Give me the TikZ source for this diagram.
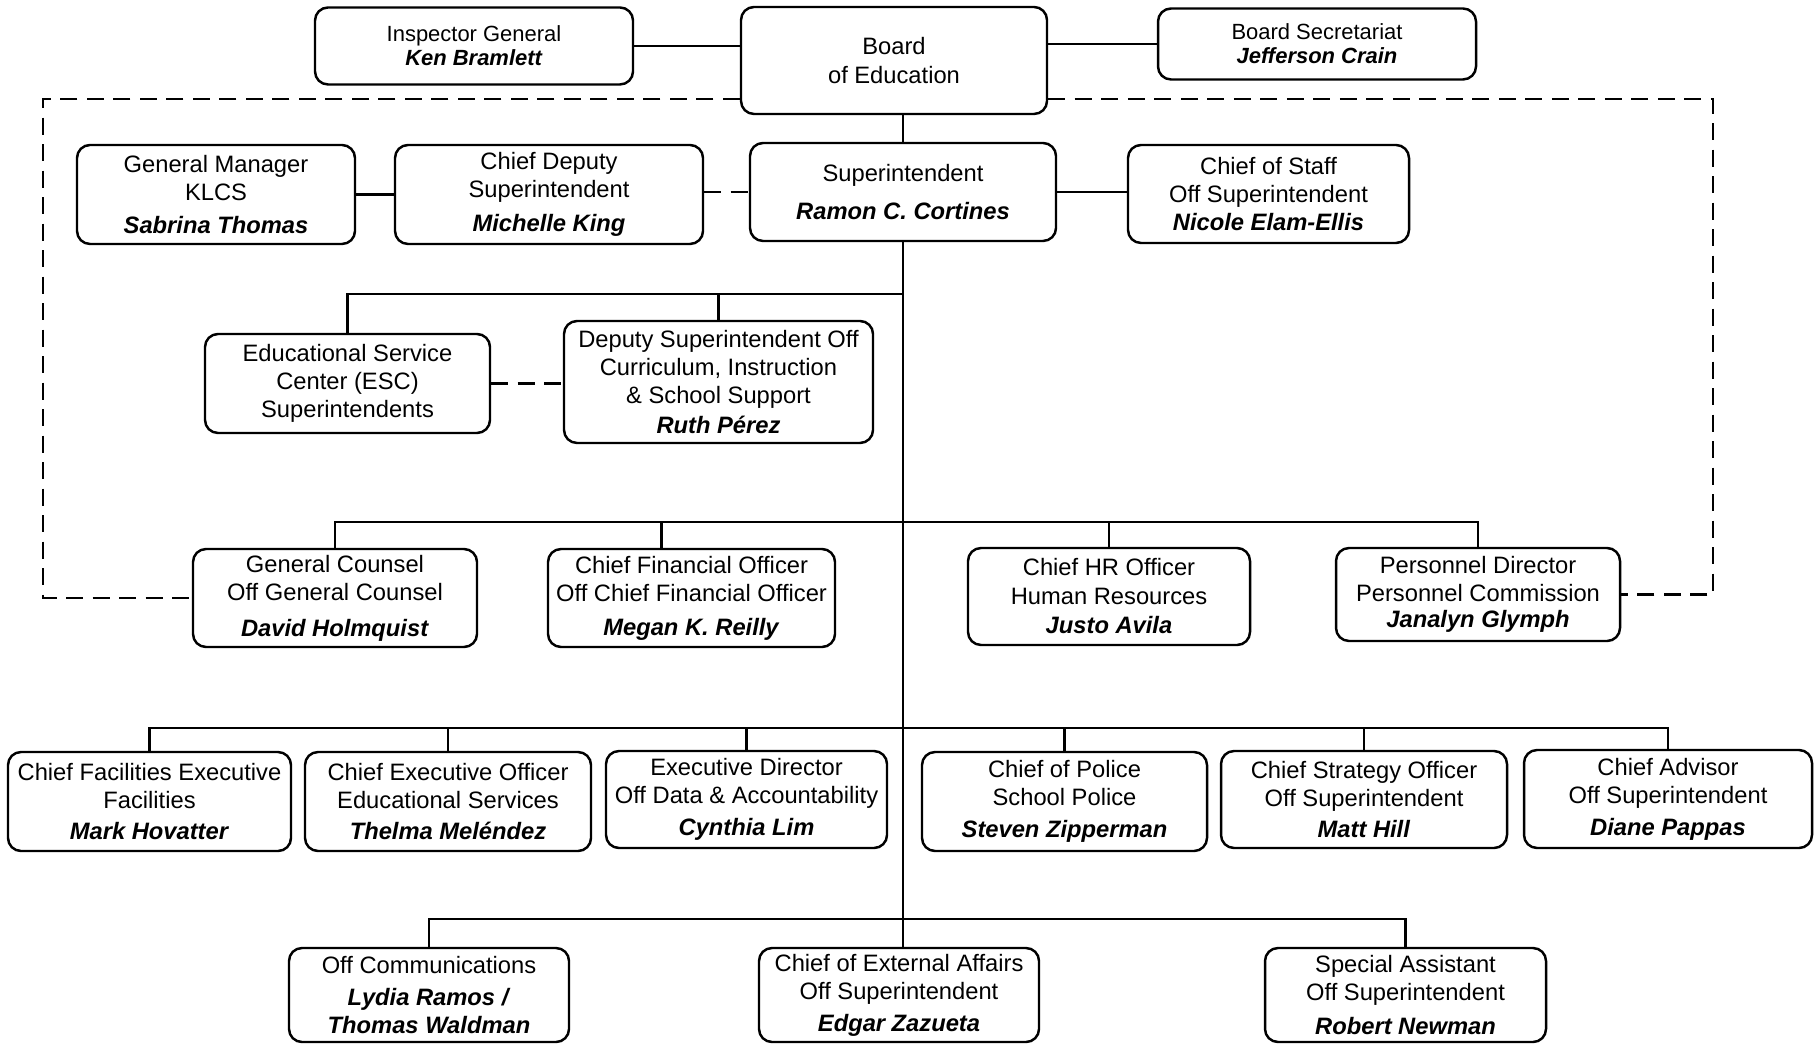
\documentclass[tikz,border=0pt]{standalone}
\usepackage{fontspec}
\setmainfont{Liberation Sans}
\newcommand{\nm}[1]{\textbf{\textit{#1}}}

\begin{document}
\begin{tikzpicture}[
    x = 0.2mm, y = -0.2mm,
    line width = 1.4pt,
    unit/.style = {draw, rectangle, rounded corners = 2.6mm, align = center,
        inner sep = 0pt, font = \fontsize{13.5}{16}\selectfont},
    small unit/.style = {unit, font = \fontsize{12.5}{13.6}\selectfont},
    boxsize/.style 2 args = {minimum width = #1*0.2mm, minimum height = #2*0.2mm},
    dashlink/.style = {dash pattern = on 3.4mm off 1.9mm}
]
\useasboundingbox (0,0) rectangle (1820,1044);

\node[unit, boxsize={306}{107}] (board) at (894,60.5) {Board\\of Education};
\node[small unit, boxsize={318}{77}] (inspector) at (474,46) {Inspector General\\\nm{Ken Bramlett}};
\node[small unit, boxsize={318}{71}] (secretariat) at (1317,44) {Board Secretariat\\\nm{Jefferson Crain}};

\node[unit, boxsize={278}{99}] (klcs) at (216,194.5) {General Manager\\KLCS\\[3pt]\nm{Sabrina Thomas}};
\node[unit, boxsize={308}{99}] (deputy) at (549,194.5) {Chief Deputy\\Superintendent\\[3pt]\nm{Michelle King}};
\node[unit, boxsize={306}{98}] (super) at (903,192) {Superintendent\\[6pt]\nm{Ramon C. Cortines}};
\node[unit, boxsize={281}{98}] (staff) at (1268.5,194) {Chief of Staff\\Off Superintendent\\\nm{Nicole Elam-Ellis}};

\node[unit, boxsize={285}{99}] (esc) at (347.5,383.5) {Educational Service\\Center (ESC)\\Superintendents};
\node[unit, boxsize={309}{122}] (curric) at (718.5,382) {Deputy Superintendent Off\\Curriculum, Instruction\\\& School Support\\[1pt]\nm{Ruth Pérez}};

\node[unit, boxsize={284}{98}] (counsel) at (335,598) {General Counsel\\Off General Counsel\\[4.5pt]\nm{David Holmquist}};
\node[unit, boxsize={287}{98}] (cfo) at (691.5,598) {Chief Financial Officer\\Off Chief Financial Officer\\[3.4pt]\nm{Megan K. Reilly}};
\node[unit, boxsize={282}{97}] (hr) at (1109,596.5) {Chief HR Officer\\Human Resources\\[1pt]\nm{Justo Avila}};
\node[unit, boxsize={284}{93}] (personnel) at (1478,594.5) {Personnel Director\\Personnel Commission\\[-1pt]\nm{Janalyn Glymph}};

\node[unit, boxsize={283}{99}] (facilities) at (149.5,801.5) {Chief Facilities Executive\\Facilities\\[2pt]\nm{Mark Hovatter}};
\node[unit, boxsize={286}{99}] (edserv) at (448,801.5) {Chief Executive Officer\\Educational Services\\[2pt]\nm{Thelma Meléndez}};
\node[unit, boxsize={281}{97}] (data) at (746.5,799.5) {Executive Director\\Off Data \& Accountability\\[2pt]\nm{Cynthia Lim}};
\node[unit, boxsize={285}{99}] (police) at (1064.5,801.5) {Chief of Police\\School Police\\[2pt]\nm{Steven Zipperman}};
\node[unit, boxsize={286}{97}] (strategy) at (1364,799.5) {Chief Strategy Officer\\Off Superintendent\\[2pt]\nm{Matt Hill}};
\node[unit, boxsize={288}{98}] (advisor) at (1668,799) {Chief Advisor\\Off Superintendent\\[2pt]\nm{Diane Pappas}};

\node[unit, boxsize={280}{94}] (comms) at (429,995) {Off Communications\\[2pt]\nm{Lydia Ramos /}\\\nm{Thomas Waldman}};
\node[unit, boxsize={280}{94}] (external) at (899,995) {Chief of External Affairs\\Off Superintendent\\[2pt]\nm{Edgar Zazueta}};
\node[unit, boxsize={281}{94}] (assistant) at (1405.5,995) {Special Assistant\\Off Superintendent\\[3pt]\nm{Robert Newman}};

\coordinate (bus1) at (903,294);
\coordinate (bus2) at (903,522);
\coordinate (bus3) at (903,728);
\coordinate (bus4) at (903,919);
\coordinate (leftcorner) at (43,99);
\coordinate (rightcorner) at (1713,99);

\draw (inspector.east) -- (inspector.east -| board.west);
\draw (secretariat.west) -- (secretariat.west -| board.east);
\draw (klcs) -- (deputy);
\draw[dashlink] (super.west -| deputy.east) -- (super.west);
\draw (super.east) -- (super.east -| staff.west);
\draw (super.north) -- (super.north |- board.south);
\draw (super.south) -- (super.south |- external.north);

\draw (esc.north) |- (bus1);
\draw (curric.north) -- (curric.north |- bus1);
\draw[dashlink] (esc.east) -- (esc.east -| curric.west);

\draw (counsel.north) |- (bus2) -| (personnel.north);
\draw ([xshift=-6mm]cfo.north) -- ([xshift=-6mm]cfo.north |- bus2);
\draw (hr.north) -- (hr.north |- bus2);

\draw (facilities.north) |- (bus3) -| (advisor.north);
\foreach \n in {edserv, data, police, strategy}
    \draw (\n.north) -- (\n.north |- bus3);

\draw (comms.north) |- (bus4) -| (assistant.north);

\draw[dashlink] (board.west |- leftcorner) -- (leftcorner) |- (counsel.west);
\draw[dashlink] (board.east |- rightcorner) -- (rightcorner) |- (personnel.east);
\end{tikzpicture}
\end{document}
